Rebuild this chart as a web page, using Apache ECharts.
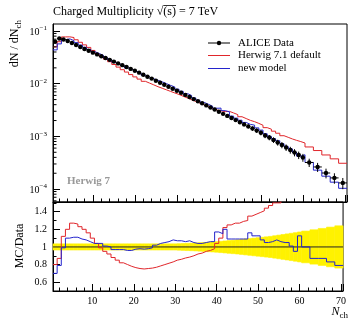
<!DOCTYPE html>
<html>
<head>
<meta charset="utf-8">
<script src="https://cdn.jsdelivr.net/npm/echarts@6/dist/echarts.min.js"></script>
<style>
  html, body { margin: 0; padding: 0; background: #fff; }
  #chart { width: 349px; height: 322px; }
</style>
</head>
<body>
<div id="chart"></div>
<script>
// bin edges in N_ch (unit bins up to 60, then width 2)
const binEdges = [0.5,1.5,2.5,3.5,4.5,5.5,6.5,7.5,8.5,9.5,10.5,11.5,12.5,13.5,14.5,15.5,16.5,17.5,18.5,19.5,
  20.5,21.5,22.5,23.5,24.5,25.5,26.5,27.5,28.5,29.5,30.5,31.5,32.5,33.5,34.5,35.5,36.5,37.5,38.5,39.5,
  40.5,41.5,42.5,43.5,44.5,45.5,46.5,47.5,48.5,49.5,50.5,51.5,52.5,53.5,54.5,55.5,56.5,57.5,58.5,59.5,
  60.5,62.5,64.5,66.5,68.5,70.5];

// ALICE dN/dNch
const aliceData = [0.0626,0.0721,0.0690,0.0646,0.0592,0.0542,0.0497,0.0455,0.0421,0.0389,
  0.0360,0.0333,0.0308,0.0284,0.0263,0.0243,0.0225,0.0208,0.0191,0.0176,
  0.0162,0.0148,0.0136,0.0125,0.0114,0.01045,0.00957,0.00877,0.00804,0.00736,
  0.00672,0.00613,0.00560,0.00511,0.00466,0.00425,0.00388,0.00353,0.00323,0.00294,
  0.00268,0.00245,0.00223,0.00204,0.00186,0.00169,0.00155,0.00141,0.00129,0.00117,
  0.00104,0.000953,0.000855,0.000766,0.000687,0.000616,0.000552,0.000495,0.000443,0.000398,
  0.000320,0.000263,0.000202,0.000163,0.000131];

// relative uncertainty of the data (yellow band)
const aliceRelErr = [0.035,0.035,0.035,0.035,0.035,0.035,0.035,0.035,0.035,0.035,
  0.035,0.035,0.035,0.035,0.035,0.035,0.035,0.035,0.035,0.035,
  0.035,0.035,0.035,0.035,0.035,0.035,0.035,0.035,0.035,0.035,
  0.037,0.039,0.041,0.043,0.045,0.048,0.051,0.054,0.057,0.060,
  0.064,0.068,0.072,0.076,0.080,0.085,0.090,0.095,0.100,0.105,
  0.110,0.115,0.120,0.127,0.134,0.141,0.148,0.155,0.162,0.170,
  0.180,0.195,0.210,0.225,0.240];

// MC / data
const herwigDefaultOverData = [0.80,0.87,1.12,1.20,1.27,1.26,1.23,1.20,1.16,1.10,
  1.04,0.99,0.95,0.92,0.88,0.85,0.82,0.80,0.78,0.765,
  0.755,0.75,0.755,0.76,0.77,0.785,0.80,0.815,0.83,0.85,
  0.86,0.875,0.885,0.90,0.92,0.93,0.95,0.96,0.98,1.04,
  1.10,1.22,1.25,1.27,1.27,1.29,1.30,1.35,1.37,1.39,
  1.41,1.44,1.47,1.50,1.50,1.56,1.62,1.70,1.80,1.88,
  1.97,2.05,2.20,2.30,2.36];

const newModelOverData = [0.70,0.79,0.99,1.10,1.11,1.11,1.09,1.08,1.06,1.04,
  1.04,1.04,1.01,1.00,0.97,0.97,0.97,0.96,0.96,0.975,
  0.98,0.975,0.98,0.99,1.02,1.04,1.05,1.06,1.08,1.07,
  1.07,1.06,1.07,1.05,1.04,1.04,1.05,1.06,1.06,1.17,
  1.15,1.20,1.09,1.09,1.09,1.09,1.09,1.16,1.126,1.126,
  1.08,1.05,1.06,1.08,1.06,1.05,1.05,1.01,0.95,1.126,
  1.00,0.87,0.87,0.83,0.79];

const logMinorMults = [2,3,4,5,6,7,8,9];
const logDecades = [1e-5,1e-4,1e-3,1e-2,1e-1];

const FONT = 'Liberation Serif';
const RED = '#e0262b';
const BLUE = '#2424cc';
const YELLOW = '#fff200';

const herwigDefault = aliceData.map((d, i) => d * herwigDefaultOverData[i]);
const newModel = aliceData.map((d, i) => d * newModelOverData[i]);

function histLine(values) {
  const pts = [];
  values.forEach((v, i) => {
    pts.push([binEdges[i], v]);
    pts.push([binEdges[i + 1], v]);
  });
  return pts;
}

const logMinor = [];
logDecades.forEach(d => logMinorMults.forEach(m => {
  const v = d * m;
  if (v > 5.69e-5 && v < 0.1359) logMinor.push([binEdges[0], v]);
}));

const xMin = binEdges[0], xMax = binEdges[binEdges.length - 1];

const tickStyle = { color: '#000', width: 1 };
function xAxisCfg(grid, labels) {
  return {
    type: 'value', gridIndex: grid, min: xMin, max: xMax, splitNumber: 7,
    axisLine: { lineStyle: tickStyle },
    axisTick: { inside: true, length: 7, lineStyle: tickStyle },
    minorTick: { show: true, splitNumber: 5, length: 3.5, lineStyle: tickStyle },
    splitLine: { show: false },
    axisLabel: {
      show: labels, showMinLabel: false, showMaxLabel: false,
      color: '#000', fontFamily: FONT, fontSize: 10, margin: 5
    }
  };
}

// canvas measure for the sqrt overline in the title
const mctx = document.createElement('canvas').getContext('2d');
mctx.font = '12px "' + FONT + '"';
const ovX0 = 53 + mctx.measureText('Charged Multiplicity \u221A').width;
const ovW = mctx.measureText('(s)').width;

const chart = echarts.init(document.getElementById('chart'));
chart.setOption({
  animation: false,
  grid: [
    { left: 53, right: 2, top: 24, height: 178, show: true, borderColor: '#000', borderWidth: 1 },
    { left: 53, right: 2, top: 202, height: 89, show: true, borderColor: '#000', borderWidth: 1 }
  ],
  xAxis: [xAxisCfg(0, false), xAxisCfg(1, true)],
  yAxis: [
    {
      type: 'log', logBase: 10, gridIndex: 0, min: 5.69e-5, max: 0.1359,
      axisLine: { lineStyle: tickStyle },
      axisTick: { inside: true, length: 7, lineStyle: tickStyle },
      splitLine: { show: false },
      axisLabel: {
        showMinLabel: false, showMaxLabel: false, margin: 6, color: '#000',
        formatter: v => '{b|10}{e|\u2212' + (-Math.round(Math.log10(v))) + '}',
        rich: {
          b: { fontFamily: FONT, fontSize: 10, lineHeight: 12, verticalAlign: 'bottom', color: '#000' },
          e: { fontFamily: FONT, fontSize: 7, lineHeight: 12, verticalAlign: 'top', color: '#000' }
        }
      }
    },
    {
      type: 'value', gridIndex: 1, min: 0.5, max: 1.51, splitNumber: 5,
      axisLine: { lineStyle: tickStyle },
      axisTick: { inside: true, length: 7, lineStyle: tickStyle },
      minorTick: { show: true, splitNumber: 2, length: 3.5, lineStyle: tickStyle },
      splitLine: { show: false },
      axisLabel: {
        showMinLabel: false, showMaxLabel: false, margin: 6,
        color: '#000', fontFamily: FONT, fontSize: 10
      }
    }
  ],
  series: [
    {
      // log minor ticks on the left axis
      type: 'custom', xAxisIndex: 0, yAxisIndex: 0, silent: true, z: 5,
      data: logMinor, encode: { x: 0, y: 1 },
      renderItem(params, api) {
        const p = api.coord([api.value(0), api.value(1)]);
        return { type: 'line', shape: { x1: p[0], y1: p[1], x2: p[0] + 3.5, y2: p[1] },
          style: { stroke: '#000', lineWidth: 1 } };
      }
    },
    {
      name: 'Herwig 7.1 default', type: 'line', xAxisIndex: 0, yAxisIndex: 0,
      data: histLine(herwigDefault), symbol: 'none', z: 2,
      lineStyle: { color: RED, width: 1 }
    },
    {
      name: 'new model', type: 'line', xAxisIndex: 0, yAxisIndex: 0,
      data: histLine(newModel), symbol: 'none', z: 3,
      lineStyle: { color: BLUE, width: 1 }
    },
    {
      name: 'ALICE Data', type: 'custom', xAxisIndex: 0, yAxisIndex: 0, z: 4,
      data: aliceData.map((v, i) => [binEdges[i], binEdges[i + 1], v, v * aliceRelErr[i]]),
      encode: { x: [0, 1], y: 2 },
      renderItem(params, api) {
        const lo = api.value(0), hi = api.value(1), v = api.value(2), e = api.value(3);
        const mid = (lo + hi) / 2;
        const pl = api.coord([lo, v]), pr = api.coord([hi, v]);
        const pt = api.coord([mid, v + e]), pb = api.coord([mid, v - e]);
        return { type: 'group', children: [
          { type: 'line', shape: { x1: pl[0], y1: pl[1], x2: pr[0], y2: pr[1] }, style: { stroke: '#000', lineWidth: 1 } },
          { type: 'line', shape: { x1: pt[0], y1: pt[1], x2: pb[0], y2: pb[1] }, style: { stroke: '#000', lineWidth: 1 } },
          { type: 'circle', shape: { cx: (pl[0] + pr[0]) / 2, cy: pl[1], r: 2.2 }, style: { fill: '#000' } }
        ] };
      }
    },
    {
      // data uncertainty band in the ratio
      type: 'custom', xAxisIndex: 1, yAxisIndex: 1, z: 1, silent: true,
      data: aliceRelErr.map((e, i) => [binEdges[i], binEdges[i + 1], 1 + e, 1 - e]),
      encode: { x: [0, 1], y: [2, 3] },
      renderItem(params, api) {
        const a = api.coord([api.value(0), api.value(2)]);
        const b = api.coord([api.value(1), api.value(3)]);
        return { type: 'rect', shape: { x: a[0], y: a[1], width: b[0] - a[0], height: b[1] - a[1] },
          style: { fill: YELLOW, stroke: YELLOW, lineWidth: 0.6 } };
      }
    },
    {
      type: 'line', xAxisIndex: 1, yAxisIndex: 1, z: 2, symbol: 'none',
      data: [[xMin, 1], [xMax, 1]], lineStyle: { color: '#222', width: 1 }
    },
    {
      type: 'line', xAxisIndex: 1, yAxisIndex: 1, z: 3, symbol: 'none', clip: true,
      data: histLine(herwigDefaultOverData), lineStyle: { color: RED, width: 1 }
    },
    {
      type: 'line', xAxisIndex: 1, yAxisIndex: 1, z: 3, symbol: 'none', clip: true,
      data: histLine(newModelOverData), lineStyle: { color: BLUE, width: 1 }
    }
  ],
  graphic: [
    { type: 'text', x: 53, y: 12, style: { text: 'Charged Multiplicity \u221A(s) = 7 TeV',
      font: '12px "' + FONT + '"', fill: '#000', textVerticalAlign: 'middle' } },
    { type: 'line', shape: { x1: ovX0, y1: 5.5, x2: ovX0 + ovW, y2: 5.5 }, style: { stroke: '#000', lineWidth: 0.8 } },
    // y axis titles
    { type: 'text', x: 16, y: 20, rotation: Math.PI / 2,
      style: { text: '{n|dN / dN}{s|ch}', textAlign: 'right', textVerticalAlign: 'middle',
        rich: { n: { fontFamily: FONT, fontSize: 12, lineHeight: 15, verticalAlign: 'top', fill: '#000' },
                s: { fontFamily: FONT, fontSize: 9, lineHeight: 15, verticalAlign: 'bottom', fill: '#000' } } } },
    { type: 'text', x: 20, y: 246, rotation: Math.PI / 2,
      style: { text: 'MC/Data', font: '12px "' + FONT + '"', fill: '#000', textAlign: 'center', textVerticalAlign: 'middle' } },
    // x axis title
    { type: 'text', x: 348, y: 313,
      style: { text: '{n|N}{s|ch}', textAlign: 'right', textVerticalAlign: 'middle',
        rich: { n: { fontFamily: FONT, fontStyle: 'italic', fontSize: 12, lineHeight: 15, verticalAlign: 'top', fill: '#000' },
                s: { fontFamily: FONT, fontSize: 9, lineHeight: 15, verticalAlign: 'bottom', fill: '#000' } } } },
    // generator tag
    { type: 'text', x: 67, y: 181, style: { text: 'Herwig 7', font: 'bold 11px "' + FONT + '"', fill: '#999', textVerticalAlign: 'middle' } },
    // legend
    { type: 'line', shape: { x1: 208, y1: 43, x2: 230, y2: 43 }, style: { stroke: '#000', lineWidth: 1 } },
    { type: 'circle', shape: { cx: 219, cy: 43, r: 2.2 }, style: { fill: '#000' } },
    { type: 'text', x: 238, y: 43, style: { text: 'ALICE Data', font: '11px "' + FONT + '"', fill: '#000', textVerticalAlign: 'middle' } },
    { type: 'line', shape: { x1: 208, y1: 55.5, x2: 230, y2: 55.5 }, style: { stroke: RED, lineWidth: 1 } },
    { type: 'text', x: 238, y: 55.5, style: { text: 'Herwig 7.1 default', font: '11px "' + FONT + '"', fill: '#000', textVerticalAlign: 'middle' } },
    { type: 'line', shape: { x1: 208, y1: 68.5, x2: 230, y2: 68.5 }, style: { stroke: BLUE, lineWidth: 1 } },
    { type: 'text', x: 238, y: 68.5, style: { text: 'new model', font: '11px "' + FONT + '"', fill: '#000', textVerticalAlign: 'middle' } }
  ]
});
</script>
</body>
</html>
